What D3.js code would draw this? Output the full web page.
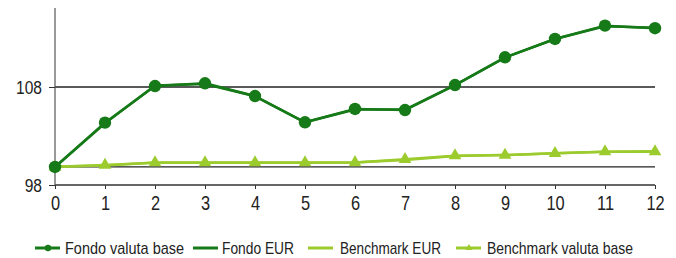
<!DOCTYPE html>
<html><head><meta charset="utf-8">
<script src="https://cdn.jsdelivr.net/npm/d3@7"></script>
<style>
html,body{margin:0;padding:0;background:#fff;}
svg text{font-family:"Liberation Sans",Arial,sans-serif;fill:#222;}
</style></head>
<body>
<svg id="c" width="676" height="258"></svg>
<script>
const periods = [0,1,2,3,4,5,6,7,8,9,10,11,12];
const fondoValutaBase = [99.84,104.36,108.1,108.38,107.08,104.4,105.76,105.65,108.2,111.03,112.9,114.26,114.0];
const fondoEUR        = [99.84,104.3,108.15,108.3,107.05,104.4,105.7,105.7,108.2,111.0,112.9,114.2,114.05];
const benchmarkEUR    = [99.9,100.0,100.3,100.3,100.3,100.3,100.3,100.55,100.95,101.05,101.25,101.4,101.45];
const benchmarkValutaBase = [99.84,100.04,100.28,100.28,100.28,100.28,100.3,100.62,100.99,101.06,101.23,101.4,101.4];
const yTicks = [98,108];
const refLine = 99.84;
const legendLabels = ["Fondo valuta base","Fondo EUR","Benchmark EUR","Benchmark valuta base"];

const dark = "#157a17", light = "#9ccb2e";
const svg = d3.select("#c");
const x = d3.scaleLinear().domain([0,12]).range([55,655]);
const y = d3.scaleLinear().domain([98,108]).range([185,87]);
const yTop = 8;
const sx = 0.82;

// gridlines
svg.append("g").selectAll("line").data([108, refLine]).join("line")
  .attr("x1",55).attr("x2",655).attr("y1",d=>y(d)).attr("y2",d=>y(d))
  .attr("stroke","#222").attr("stroke-width",1.3);

// axes
const xAxis = d3.axisBottom(x).tickValues(periods).tickSize(4).tickPadding(7).tickFormat(d3.format("d"));
const gx = svg.append("g").attr("transform",`translate(0,${y(98)})`).call(xAxis);
gx.select(".domain").attr("stroke","#333").attr("stroke-width",1.3).attr("d",`M55,0H655`);
gx.selectAll(".tick line").attr("stroke","#333");
gx.selectAll("text").attr("font-size",20).attr("dy","0.72em").attr("transform",`scale(${sx},1)`);

const yAxis = d3.axisLeft(y).tickValues(yTicks).tickSize(6).tickPadding(3);
const gy = svg.append("g").attr("transform","translate(55,0)").call(yAxis);
gy.select(".domain").attr("stroke","#555").attr("stroke-width",1.2).attr("d",`M0,${yTop}V${y(98)}`);
gy.selectAll(".tick line").attr("stroke","#333");
gy.selectAll("text").attr("font-size",19).attr("x",-13/sx).attr("dy","0.36em").attr("transform",`scale(${sx},1)`);

const line = d3.line().x((d,i)=>x(periods[i])).y(d=>y(d));

function series(vals,color,w){
  svg.append("path").datum(vals).attr("d",line).attr("fill","none")
    .attr("stroke",color).attr("stroke-width",w).attr("stroke-linejoin","round");
}
series(benchmarkEUR, light, 2.5);
series(benchmarkValutaBase, light, 2.5);
const tri = d3.symbol().type(d3.symbolTriangle).size(70);
svg.append("g").selectAll("path").data(benchmarkValutaBase).join("path")
  .attr("d",tri).attr("transform",(d,i)=>`translate(${x(periods[i])},${y(d)})`)
  .attr("fill",light);

series(fondoEUR, dark, 2.5);
series(fondoValutaBase, dark, 2.5);
svg.append("g").selectAll("circle").data(fondoValutaBase).join("circle")
  .attr("cx",(d,i)=>x(periods[i])).attr("cy",d=>y(d)).attr("r",6.2).attr("fill",dark);

// legend
const leg = [
  {x:35, tx:65, w:119, label:legendLabels[0], color:dark, marker:"circle"},
  {x:193, tx:222, w:72, label:legendLabels[1], color:dark, marker:null},
  {x:308, tx:340, w:101, label:legendLabels[2], color:light, marker:null},
  {x:456, tx:487, w:146, label:legendLabels[3], color:light, marker:"tri"}
];
const ly = 248;
const lg = svg.append("g").selectAll("g").data(leg).join("g").attr("transform",`translate(0,${ly})`);
lg.append("line").attr("x1",d=>d.x).attr("x2",d=>d.x+25).attr("y1",0).attr("y2",0)
  .attr("stroke",d=>d.color).attr("stroke-width",3);
lg.filter(d=>d.marker==="circle").append("circle").attr("cx",d=>d.x+13).attr("cy",0).attr("r",3.2).attr("fill",d=>d.color);
lg.filter(d=>d.marker==="tri").append("path").attr("d",d3.symbol().type(d3.symbolTriangle).size(22))
  .attr("transform",d=>`translate(${d.x+13},0)`).attr("fill",d=>d.color);
lg.append("text").attr("x",d=>d.tx).attr("y",0).attr("dy","0.36em").attr("font-size",17)
  .attr("textLength",d=>d.w).attr("lengthAdjust","spacingAndGlyphs").text(d=>d.label);
</script>
</body></html>
